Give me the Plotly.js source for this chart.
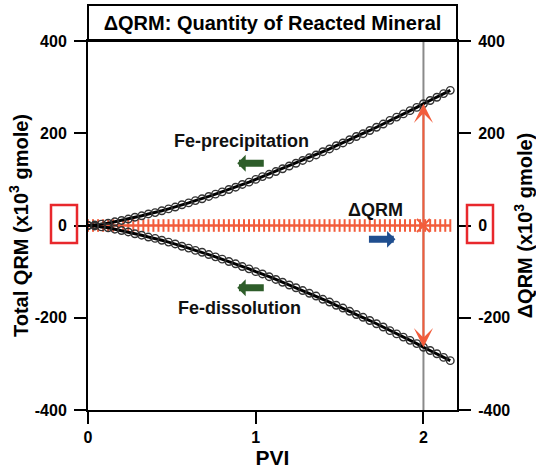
<!DOCTYPE html>
<html>
<head>
<meta charset="utf-8">
<script src="https://cdn.plot.ly/plotly-3.0.1.min.js"></script>
<style>html,body{margin:0;padding:0;background:#fff;}#chart{width:536px;height:471px;}</style>
</head>
<body>
<div id="chart"></div>
<script>
// ---- data ----
const pvi = [0,0.04,0.08,0.12,0.16,0.20,0.24,0.28,0.32,0.36,
  0.40,0.44,0.48,0.52,0.56,0.60,0.64,0.68,0.72,0.76,
  0.80,0.84,0.88,0.92,0.96,1.00,1.04,1.08,1.12,1.16,
  1.20,1.24,1.28,1.32,1.36,1.40,1.44,1.48,1.52,1.56,
  1.60,1.64,1.68,1.72,1.76,1.80,1.84,1.88,1.92,1.96,
  2.00,2.04,2.08,2.12,2.16];
const precipitation = [0,1,3,5,8,11,14,18,21,25,
  28,32,36,40,45,49,54,58,63,68,
  73,78,83,89,94,100,106,111,117,123,
  129,135,141,147,153,160,166,173,179,186,
  193,199,206,213,220,228,235,242,249,256,
  264,271,278,286,293];
const dissolution = [0,-1,-3,-5,-8,-11,-14,-18,-21,-25,
  -28,-32,-36,-40,-45,-49,-54,-58,-63,-68,
  -73,-78,-83,-89,-94,-100,-105,-111,-117,-123,
  -129,-135,-141,-147,-153,-160,-166,-173,-179,-186,
  -193,-199,-206,-213,-220,-228,-235,-242,-249,-256,
  -264,-271,-278,-286,-293];
const dqrmPvi = [0,0.03,0.06,0.09,0.12,0.15,0.18,0.21,0.24,0.27,
  0.30,0.33,0.36,0.39,0.42,0.45,0.48,0.51,0.54,0.57,
  0.60,0.63,0.66,0.69,0.72,0.75,0.78,0.81,0.84,0.87,
  0.90,0.93,0.96,0.99,1.02,1.05,1.08,1.11,1.14,1.17,
  1.20,1.23,1.26,1.29,1.32,1.35,1.38,1.41,1.44,1.47,
  1.50,1.53,1.56,1.59,1.62,1.65,1.68,1.71,1.74,1.77,
  1.80,1.83,1.86,1.89,1.92,1.95,1.98,2.01,2.04,2.07,
  2.10,2.13,2.16];
const dqrm = [0,0,0,0,0,0,0,0,0,0,
  0,0,0,0,0,0,0,0,0,0,
  0,0,0,0,0,0,0,0,0,0,
  0,0,0,0,0,0,0,0,0,0,
  0,0,0,0,0,0,0,0,0,0,
  0,0,0,0,0,0,0,0,0,0,
  0,0,0,0,0,0,0,0,0,0,
  0,0,0];
const markPvi = 2;
const yTicks = [-400,-200,0,200,400];
const yTickText = ['-400','-200','0','200','400'];
const xTicks = [0,1,2];
const xTickText = ['0','1','2'];

// ---- styling ----
const FONT = 'Liberation Sans, Arial, Helvetica, sans-serif';
const RED = '#f25c3b';
const BOX = '#e8282c';
const GREEN = '#2e5d2a';
const BLUE = '#1f4e8f';
const iMark = pvi.indexOf(markPvi);
const upAt = precipitation[iMark];
const dnAt = dissolution[iMark];

const traces = [
  {x: dqrmPvi, y: dqrm, mode: 'lines+markers', type: 'scatter',
   line: {color: RED, width: 2.5},
   marker: {symbol: 'line-ns-open', size: 9, color: RED, line: {color: RED, width: 2}},
   hoverinfo: 'none', showlegend: false},
  {x: pvi, y: precipitation, mode: 'lines+markers', type: 'scatter',
   line: {color: '#000', width: 3},
   marker: {symbol: 'circle-open', size: 7.5, color: '#333', line: {color: '#333', width: 1.4}},
   hoverinfo: 'none', showlegend: false},
  {x: pvi, y: dissolution, mode: 'lines+markers', type: 'scatter',
   line: {color: '#000', width: 3},
   marker: {symbol: 'circle-open', size: 7.5, color: '#333', line: {color: '#333', width: 1.4}},
   hoverinfo: 'none', showlegend: false},
  {x: [markPvi], y: [0], mode: 'markers', type: 'scatter',
   marker: {symbol: 'x-thin-open', size: 13, color: RED, line: {color: RED, width: 2}},
   hoverinfo: 'none', showlegend: false},
  {x: [0], y: [0], yaxis: 'y2', mode: 'markers', type: 'scatter',
   marker: {opacity: 0}, hoverinfo: 'none', showlegend: false}
];

const axisCommon = {
  showgrid: false, zeroline: false, showline: true, linecolor: '#000', linewidth: 2,
  ticks: 'outside', ticklen: 12, tickwidth: 2, tickcolor: '#000',
  tickfont: {family: FONT, size: 16, color: '#000', weight: 'bold'}
};

const layout = {
  width: 536, height: 471,
  margin: {l: 88, r: 79, t: 41, b: 61},
  paper_bgcolor: '#fff', plot_bgcolor: '#fff',
  font: {family: FONT, color: '#000'},
  title: {text: '<b>ΔQRM: Quantity of Reacted Mineral</b>',
    font: {family: FONT, size: 20, color: '#000'},
    xref: 'paper', x: 0.5, xanchor: 'center', yref: 'container', y: 1 - 23/471, yanchor: 'middle'},
  xaxis: Object.assign({}, axisCommon, {
    range: [0, 2.2], tickvals: xTicks, ticktext: xTickText, mirror: true,
    title: {text: '<b>PVI</b>', font: {family: FONT, size: 21, color: '#000'}, standoff: 4}
  }),
  yaxis: Object.assign({}, axisCommon, {
    range: [-400, 400], tickvals: yTicks, ticktext: yTickText, ticklabelstandoff: 4,
    title: {text: '<b>Total QRM (x10<sup>3</sup> gmole)</b>', font: {family: FONT, size: 20, color: '#000'}, standoff: 1}
  }),
  yaxis2: Object.assign({}, axisCommon, {
    range: [-400, 400], tickvals: yTicks, ticktext: yTickText, overlaying: 'y', side: 'right', ticklabelstandoff: 4,
    title: {text: '<b>ΔQRM (x10<sup>3</sup> gmole)</b>', font: {family: FONT, size: 20, color: '#000'}, standoff: 12}
  }),
  shapes: [
    {type: 'line', xref: 'x', yref: 'paper', x0: markPvi, x1: markPvi, y0: 0, y1: 1,
     line: {color: '#8a8a8a', width: 2}, layer: 'below'},
    {type: 'rect', xref: 'paper', yref: 'paper', x0: 0, x1: 1, y0: 1, y1: 1 + 36/369,
     line: {color: '#000', width: 2}},
    {type: 'rect', xref: 'paper', yref: 'paper', x0: (51-88)/369, x1: (77-88)/369, y0: (410-243)/369, y1: (410-205)/369,
     line: {color: BOX, width: 2.5}},
    {type: 'rect', xref: 'paper', yref: 'paper', x0: (467-88)/369, x1: (493-88)/369, y0: (410-243)/369, y1: (410-205)/369,
     line: {color: BOX, width: 2.5}}
  ],
  annotations: [
    {x: 0.915, y: 183, xref: 'x', yref: 'y', text: '<b>Fe-precipitation</b>', showarrow: false,
     font: {family: FONT, size: 18, color: '#111'}},
    {x: 0.905, y: -178, xref: 'x', yref: 'y', text: '<b>Fe-dissolution</b>', showarrow: false,
     font: {family: FONT, size: 18, color: '#111'}},
    {x: 1.713, y: 33, xref: 'x', yref: 'y', text: '<b>ΔQRM</b>', showarrow: false,
     font: {family: FONT, size: 18, color: '#111'}},
    {x: 0.89, y: 135, xref: 'x', yref: 'y', text: '', showarrow: true, ax: 28, ay: 0,
     arrowcolor: GREEN, arrowwidth: 7, arrowhead: 1, arrowsize: 0.4},
    {x: 0.89, y: -135, xref: 'x', yref: 'y', text: '', showarrow: true, ax: 28, ay: 0,
     arrowcolor: GREEN, arrowwidth: 7, arrowhead: 1, arrowsize: 0.4},
    {x: 1.833, y: -30, xref: 'x', yref: 'y', text: '', showarrow: true, ax: -28, ay: 0,
     arrowcolor: BLUE, arrowwidth: 7, arrowhead: 1, arrowsize: 0.4},
    {x: markPvi, y: upAt, xref: 'x', yref: 'y', axref: 'x', ayref: 'y', ax: markPvi, ay: 0,
     text: '', showarrow: true, arrowcolor: RED, arrowwidth: 2, arrowhead: 3, arrowsize: 1.6},
    {x: markPvi, y: dnAt, xref: 'x', yref: 'y', axref: 'x', ayref: 'y', ax: markPvi, ay: 0,
     text: '', showarrow: true, arrowcolor: RED, arrowwidth: 2, arrowhead: 3, arrowsize: 1.6}
  ]
};

Plotly.newPlot('chart', traces, layout, {displayModeBar: false, staticPlot: true});
</script>
</body>
</html>
